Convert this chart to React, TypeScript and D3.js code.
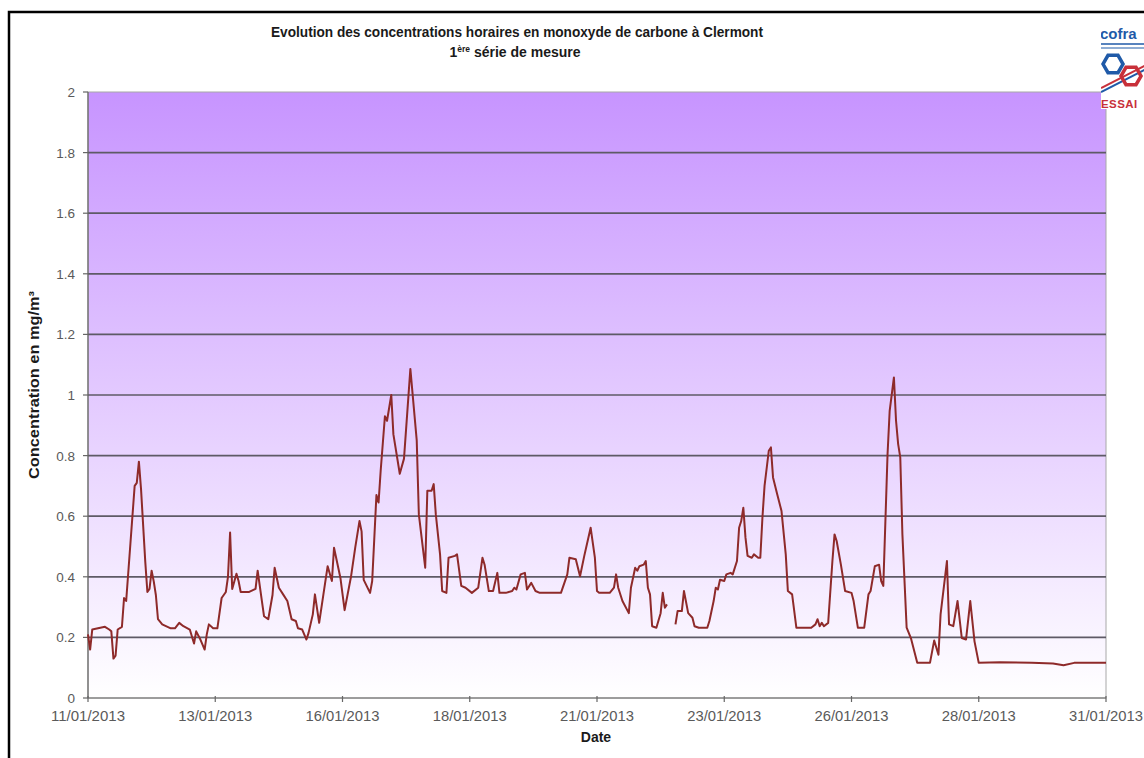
import React from "react";
import * as d3 from "d3";

// ---- Data (hour offsets from 11/01/2013 00:00, CO concentration mg/m3) ----
const hours: number[] = [
  0, 1, 2, 8, 10, 11, 12, 13, 14, 16, 17, 18, 20, 22, 23, 24, 25, 27, 28, 29,
  30, 31, 32, 33, 35, 39, 41, 43, 45, 48, 50, 51, 53, 55, 56, 57, 59, 61, 63, 65,
  66, 67, 68, 70, 71, 72, 76, 79, 80, 82, 83, 85, 87, 88, 90, 92, 94, 96, 98, 99,
  101, 103, 104, 106, 107, 109, 111, 113, 115, 116, 119, 121, 124, 126, 128, 129, 130, 133, 134, 136,
  137, 138, 140, 141, 143, 144, 147, 149, 152, 155, 156, 159, 160, 162, 163, 164, 166, 167, 169, 170,
  173, 174, 176, 178, 181, 184, 186, 187, 189, 191, 193, 194, 197, 200, 201, 202, 204, 206, 207, 209,
  211, 213, 223, 226, 227, 230, 232, 234, 237, 239, 240, 241, 246, 248, 249, 250, 252, 255, 256, 258,
  259, 260, 262, 263, 264, 265, 266, 268, 270, 271, 272, 273, 275, 277, 278, 280, 281, 283, 285, 286,
  288, 292, 293, 295, 296, 297, 298, 300, 301, 303, 304, 306, 307, 308, 309, 310, 311, 313, 314, 316,
  317, 318, 319, 321, 322, 323, 325, 327, 329, 330, 332, 334, 341, 343, 344, 345, 346, 347, 349, 351,
  352, 353, 355, 357, 360, 361, 363, 366, 368, 369, 371, 373, 374, 375, 377, 378, 380, 381, 382, 383,
  384, 386, 388, 391, 397, 399, 401, 402, 405, 406, 408, 410, 412, 414, 416, 418, 420, 430, 445, 455,
  460, 465, 480,
];

const concentrations: (number | null)[] = [
  0.21, 0.16, 0.226, 0.235, 0.226, 0.22, 0.13, 0.14, 0.226, 0.235, 0.33, 0.32, 0.51, 0.70, 0.71, 0.78, 0.69, 0.45, 0.35, 0.36,
  0.42, 0.385, 0.34, 0.26, 0.243, 0.23, 0.23, 0.248, 0.237, 0.226, 0.18, 0.22, 0.193, 0.16, 0.21, 0.243, 0.23, 0.23, 0.33, 0.35,
  0.40, 0.546, 0.36, 0.41, 0.386, 0.35, 0.35, 0.36, 0.42, 0.32, 0.27, 0.26, 0.34, 0.43, 0.364, 0.342, 0.32, 0.26, 0.254, 0.23,
  0.226, 0.193, 0.215, 0.276, 0.342, 0.248, 0.342, 0.435, 0.386, 0.496, 0.397, 0.29, 0.40, 0.496, 0.584, 0.55, 0.39, 0.347, 0.386, 0.67,
  0.645, 0.75, 0.93, 0.915, 1.0, 0.87, 0.74, 0.79, 1.086, 0.85, 0.606, 0.43, 0.684, 0.684, 0.706, 0.606, 0.474, 0.353, 0.347, 0.463,
  0.469, 0.474, 0.37, 0.364, 0.347, 0.364, 0.463, 0.44, 0.353, 0.353, 0.413, 0.347, 0.347, 0.353, 0.364, 0.358, 0.408, 0.413, 0.358, 0.38,
  0.353, 0.347, 0.347, 0.408, 0.463, 0.458, 0.402, 0.469, 0.562, 0.463, 0.353, 0.347, 0.347, 0.364, 0.408, 0.364, 0.32, 0.28, 0.364, 0.43,
  0.42, 0.435, 0.44, 0.452, 0.364, 0.342, 0.237, 0.232, 0.28, 0.347, 0.298, 0.309, null, 0.243, 0.287, 0.287, 0.353, 0.28, 0.265, 0.237,
  0.232, 0.232, 0.254, 0.32, 0.364, 0.358, 0.39, 0.386, 0.408, 0.413, 0.408, 0.452, 0.562, 0.584, 0.628, 0.53, 0.469, 0.463, 0.474, 0.463,
  0.463, 0.595, 0.70, 0.816, 0.827, 0.728, 0.672, 0.617, 0.474, 0.353, 0.342, 0.232, 0.232, 0.243, 0.26, 0.237, 0.248, 0.237, 0.248, 0.452,
  0.54, 0.518, 0.44, 0.353, 0.347, 0.32, 0.232, 0.232, 0.342, 0.353, 0.435, 0.44, 0.386, 0.37, 0.805, 0.948, 1.058, 0.915, 0.838, 0.794,
  0.54, 0.232, 0.198, 0.116, 0.116, 0.19, 0.143, 0.276, 0.452, 0.243, 0.237, 0.32, 0.198, 0.193, 0.32, 0.187, 0.116, 0.118, 0.116, 0.114,
  0.108, 0.116, 0.116,
];

const xTickHours: number[] = [0, 60, 120, 180, 240, 300, 360, 420, 480];
const xTickLabels: string[] = [
  "11/01/2013", "13/01/2013", "16/01/2013", "18/01/2013", "21/01/2013",
  "23/01/2013", "26/01/2013", "28/01/2013", "31/01/2013",
];
const yTicks: number[] = [0, 0.2, 0.4, 0.6, 0.8, 1, 1.2, 1.4, 1.6, 1.8, 2];
const yTickLabels: string[] = ["0", "0.2", "0.4", "0.6", "0.8", "1", "1.2", "1.4", "1.6", "1.8", "2"];

const titleLine1 = "Evolution des concentrations horaires en monoxyde de carbone à Clermont";
const yAxisTitle = "Concentration en mg/m³";
const xAxisTitle = "Date";

const FONT = "'Liberation Sans', Arial, sans-serif";

export default function App() {
  const W = 1144, H = 758;
  const left = 88, right = 1106, top = 92, bottom = 698;

  const x = d3.scaleLinear().domain([0, 480]).range([left, right]);
  const y = d3.scaleLinear().domain([0, 2]).range([bottom, top]);

  const pts = hours.map((h, i) => ({ h, v: concentrations[i] }));
  const line = d3
    .line<{ h: number; v: number | null }>()
    .defined((d) => d.v !== null)
    .x((d) => x(d.h))
    .y((d) => y(d.v as number));

  const hex = (cx: number, cy: number, r: number) =>
    d3.range(6).map((k) => {
      const a = (Math.PI / 3) * k;
      return `${cx + r * Math.cos(a)},${cy + r * Math.sin(a)}`;
    }).join(" ");

  return (
    <svg width={W} height={H} style={{ position: "absolute", left: 0, top: 0, background: "#fff" }}>
      <defs>
        <linearGradient id="bg" x1="0" y1="0" x2="0" y2="1">
          <stop offset="0%" stopColor="#c794ff" />
          <stop offset="100%" stopColor="#ffffff" />
        </linearGradient>
        <clipPath id="logoClip">
          <rect x={1101} y={22} width={60} height={87} />
        </clipPath>
      </defs>
      <rect x={0} y={0} width={W} height={H} fill="#fff" />
      {/* outer frame */}
      <rect x={9} y={12} width={1300} height={900} fill="none" stroke="#000" strokeWidth={2.5} />

      {/* plot area */}
      <rect x={left} y={top} width={right - left} height={bottom - top} fill="url(#bg)" stroke="#a8a8a8" strokeWidth={1} />

      {/* gridlines */}
      {yTicks.filter((t) => t > 0 && t < 2).map((t) => (
        <line key={"g" + t} x1={left} x2={right} y1={y(t)} y2={y(t)} stroke="#5e5a66" strokeWidth={1.7} />
      ))}

      {/* axes */}
      <line x1={left} x2={left} y1={top} y2={bottom} stroke="#666" strokeWidth={1.2} />
      <line x1={left} x2={right} y1={bottom} y2={bottom} stroke="#666" strokeWidth={1.2} />
      {yTicks.map((t, i) => (
        <g key={"yt" + t}>
          <line x1={left - 5} x2={left} y1={y(t)} y2={y(t)} stroke="#666" strokeWidth={1.2} />
          <text x={left - 13} y={y(t) + 5} textAnchor="end" fontFamily={FONT} fontSize={13.5} fill="#5a5a5a">
            {yTickLabels[i]}
          </text>
        </g>
      ))}
      {xTickHours.map((h, i) => (
        <g key={"xt" + h}>
          <line x1={x(h)} x2={x(h)} y1={bottom - 2} y2={bottom + 4} stroke="#666" strokeWidth={1.2} />
          <text x={x(h)} y={bottom + 23} textAnchor="middle" fontFamily={FONT} fontSize={14} fill="#5a5a5a"
            textLength={74} lengthAdjust="spacingAndGlyphs">
            {xTickLabels[i]}
          </text>
        </g>
      ))}

      {/* series */}
      <path d={line(pts) || ""} fill="none" stroke="#8e2a2a" strokeWidth={2} strokeLinejoin="round" />

      {/* titles */}
      <text x={517} y={37} textAnchor="middle" fontFamily={FONT} fontWeight="bold" fontSize={14} fill="#1a1a1a"
        textLength={492} lengthAdjust="spacingAndGlyphs">
        {titleLine1}
      </text>
      <text x={515} y={57} textAnchor="middle" fontFamily={FONT} fontWeight="bold" fontSize={14} fill="#1a1a1a">
        1<tspan fontSize={8.5} dy={-5}>ère</tspan><tspan dy={5}> série de mesure</tspan>
      </text>
      <text transform={`translate(39, ${385}) rotate(-90)`} textAnchor="middle" fontFamily={FONT} fontWeight="bold" fontSize={14} fill="#1a1a1a"
        textLength={188} lengthAdjust="spacingAndGlyphs">
        {yAxisTitle}
      </text>
      <text x={596} y={742} textAnchor="middle" fontFamily={FONT} fontWeight="bold" fontSize={14} fill="#1a1a1a">
        {xAxisTitle}
      </text>

      {/* logo */}
      <g clipPath="url(#logoClip)">
        <rect x={1101} y={22} width={60} height={87} fill="#fff" />
        <text x={1100} y={39} fontFamily={FONT} fontWeight="bold" fontSize={15} fill="#1f5aa8">cofra</text>
        <line x1={1101} x2={1160} y1={44} y2={44} stroke="#1f5aa8" strokeWidth={1.5} />
        <line x1={1101} x2={1160} y1={48} y2={48} stroke="#1f5aa8" strokeWidth={1} />
        <line x1={1101} x2={1160} y1={88} y2={58} stroke="#c8303a" strokeWidth={2} />
        <line x1={1101} x2={1160} y1={92} y2={62} stroke="#1f5aa8" strokeWidth={2} />
        <polygon points={hex(1113, 64, 10)} fill="none" stroke="#1f5aa8" strokeWidth={3.5} />
        <polygon points={hex(1131, 76, 10)} fill="none" stroke="#c8303a" strokeWidth={3.5} />
        <text x={1101} y={108} fontFamily={FONT} fontWeight="bold" fontSize={11.5} fill="#c8303a" letterSpacing={0.4}>ESSAI</text>
      </g>
    </svg>
  );
}
